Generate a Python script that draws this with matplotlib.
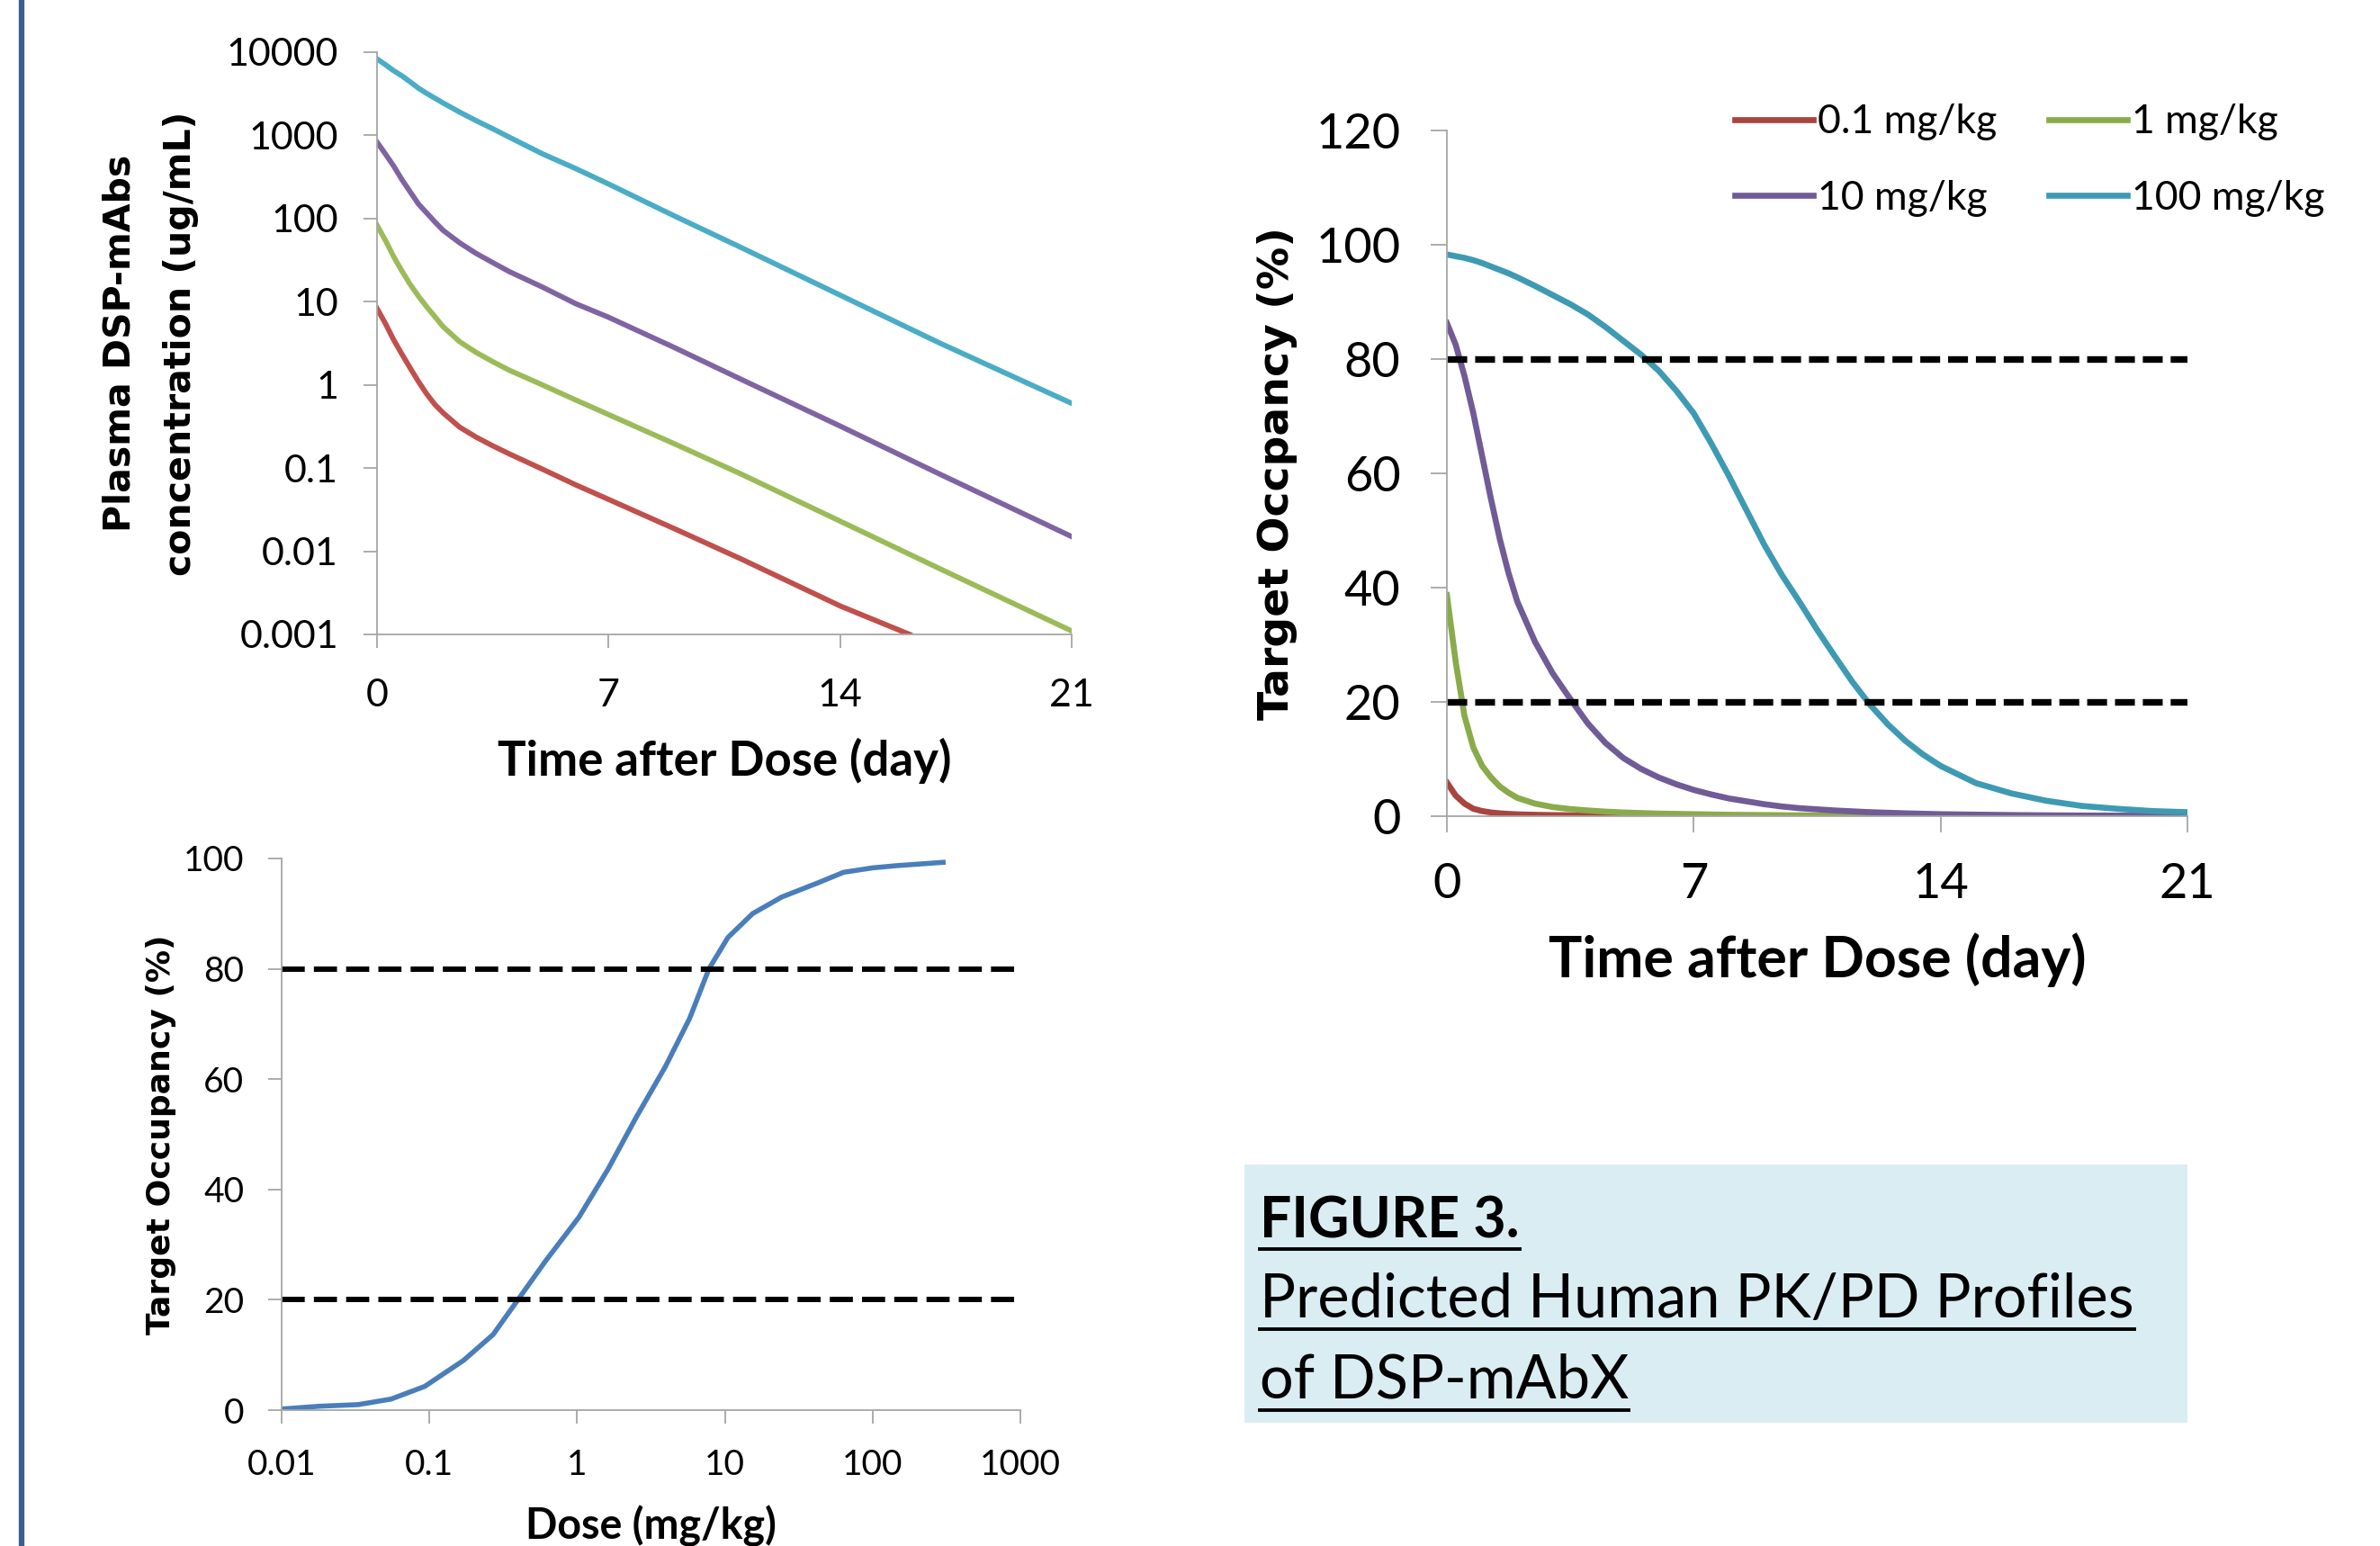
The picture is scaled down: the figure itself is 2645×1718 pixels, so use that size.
import matplotlib
matplotlib.use("Agg")
import matplotlib.pyplot as plt
from matplotlib.lines import Line2D
from matplotlib.patches import Rectangle

# ---- PK profiles (top left), concentration in ug/mL ----
pk_time = [0, 0.25, 0.5, 0.75, 1, 1.25, 1.5, 1.75, 2, 2.5, 3, 3.5, 4, 5, 6, 7, 9, 11, 14, 17, 21]
pk_time_red = [0, 0.25, 0.5, 0.75, 1, 1.25, 1.5, 1.75, 2, 2.5, 3, 3.5, 4, 5, 6, 7, 9, 11, 14, 16.1]
conc_01 = [8.3, 5.5, 3.5, 2.35, 1.6, 1.1, 0.78, 0.58, 0.46, 0.31, 0.235, 0.185, 0.148, 0.097,
           0.063, 0.042, 0.0186, 0.0081, 0.0022, 0.001]
conc_1 = [83, 55, 35, 23.5, 16.2, 11.7, 8.7, 6.6, 5.0, 3.3, 2.45, 1.9, 1.5, 1.0, 0.66, 0.44,
          0.195, 0.085, 0.023, 0.0062, 0.0011]
conc_10 = [830, 600, 430, 295, 210, 150, 117, 91, 72, 51, 38, 29.5, 23, 15, 9.5, 6.5, 2.8,
           1.17, 0.32, 0.085, 0.015]
conc_100 = [8300, 7100, 6000, 5200, 4400, 3700, 3200, 2800, 2450, 1900, 1500, 1200, 950, 600,
            400, 260, 107, 45, 12, 3.2, 0.6]
pk_yticks = [0.001, 0.01, 0.1, 1, 10, 100, 1000, 10000]
pk_ylabels = ["0.001", "0.01", "0.1", "1", "10", "100", "1000", "10000"]

# ---- target occupancy vs time (top right), % ----
ro_time = [0, 0.25, 0.5, 0.75, 1, 1.25, 1.5, 1.75, 2, 2.5, 3, 3.5, 4, 4.5, 5, 5.5, 6, 6.5,
           7, 7.5, 8, 8.5, 9, 9.5, 10, 10.5, 11, 11.5, 12, 12.5, 13, 13.5, 14, 15, 16, 17,
           18, 19, 20, 21]
ro_01 = [5.9, 3.6, 2.2, 1.3, 0.9, 0.65, 0.5, 0.4, 0.32, 0.24, 0.19, 0.16, 0.13, 0.11, 0.09,
         0.08, 0.07, 0.06, 0.05, 0.045, 0.04, 0.035, 0.03, 0.028, 0.025, 0.022, 0.02, 0.018,
         0.016, 0.015, 0.014, 0.013, 0.012, 0.01, 0.009, 0.008, 0.007, 0.006, 0.005, 0.005]
ro_1 = [38.7, 27.0, 17.5, 12.0, 8.8, 6.8, 5.2, 4.1, 3.2, 2.2, 1.6, 1.25, 1.0, 0.8, 0.65, 0.55,
        0.45, 0.4, 0.35, 0.3, 0.25, 0.22, 0.2, 0.17, 0.15, 0.13, 0.12, 0.11, 0.1, 0.09, 0.08,
        0.075, 0.07, 0.06, 0.05, 0.045, 0.04, 0.035, 0.03, 0.03]
ro_10 = [86.3, 82.5, 77.0, 70.5, 63.0, 55.5, 48.5, 42.5, 37.5, 30.5, 25.0, 20.5, 16.2, 12.8,
         10.2, 8.3, 6.8, 5.6, 4.6, 3.8, 3.1, 2.6, 2.1, 1.7, 1.4, 1.2, 1.0, 0.85, 0.7, 0.6, 0.5,
         0.42, 0.35, 0.27, 0.2, 0.15, 0.12, 0.1, 0.08, 0.06]
ro_100 = [98.3, 98.0, 97.7, 97.3, 96.8, 96.2, 95.6, 95.0, 94.3, 92.8, 91.2, 89.6, 87.8, 85.6,
          83.2, 80.8, 78.0, 74.5, 70.5, 65.2, 59.5, 53.5, 47.5, 42.2, 37.5, 32.6, 28.0, 23.5,
          19.5, 16.1, 13.2, 10.8, 8.8, 5.8, 4.0, 2.7, 1.8, 1.3, 0.9, 0.7]
dose_labels = ["0.1 mg/kg", "1 mg/kg", "10 mg/kg", "100 mg/kg"]

# ---- occupancy vs dose (bottom left) ----
dose = [0.01, 0.018, 0.033, 0.055, 0.093, 0.17, 0.27, 0.39, 0.61, 1.03, 1.62, 2.5, 3.96,
        5.77, 7.8, 10.5, 15.4, 24.2, 43.7, 63.6, 100, 145, 300]
occ = [0.2, 0.7, 1.0, 2.0, 4.3, 9.0, 13.7, 19.7, 27, 35, 43.7, 53, 62.3, 71, 80, 85.7, 90,
       93, 95.7, 97.5, 98.3, 98.7, 99.3]
dose_ticks = [0.01, 0.1, 1, 10, 100, 1000]
dose_ticklabels = ["0.01", "0.1", "1", "10", "100", "1000"]

thresholds = [20, 80]

CAL = "Lato"
VER = "DejaVu Sans"
GREY = "#a6a6a6"

W, H = 2645, 1718
fig = plt.figure(figsize=(W / 100, H / 100), dpi=100)


def px_axes(x0, y0, x1, y1):
    # pixel box (from top-left of figure) -> axes
    return fig.add_axes([x0 / W, 1 - y1 / H, (x1 - x0) / W, (y1 - y0) / H])


def style(ax, size, ticklen, xpad, ypad):
    for s in ["top", "right"]:
        ax.spines[s].set_visible(False)
    for s in ["left", "bottom"]:
        ax.spines[s].set_color(GREY)
        ax.spines[s].set_linewidth(1.3)
    ax.tick_params(direction="out", length=ticklen, width=1.3, color=GREY, labelsize=size)
    ax.tick_params(axis="x", pad=xpad)
    ax.tick_params(axis="y", pad=ypad)
    ax.tick_params(which="minor", length=0)
    for lab in ax.get_xticklabels() + ax.get_yticklabels():
        lab.set_fontfamily(CAL)


# top left
ax1 = px_axes(419, 58, 1191, 705)
ax1.set_yscale("log")
ax1.plot(pk_time_red, conc_01, color="#c0504d", lw=4.2)
ax1.plot(pk_time, conc_1, color="#9bbb59", lw=4.2)
ax1.plot(pk_time, conc_10, color="#8064a2", lw=4.2)
ax1.plot(pk_time, conc_100, color="#4bacc6", lw=4.2)
ax1.set_xlim(0, 21)
ax1.set_ylim(0.001, 10000)
ax1.set_xticks([0, 7, 14, 21])
ax1.set_yticks(pk_yticks)
ax1.set_yticklabels(pk_ylabels)
style(ax1, 31, 11, 24, 20)
ax1.set_xlabel("Time after Dose (day)", fontfamily=CAL, fontweight="bold", fontsize=38)
ax1.xaxis.set_label_coords(0.5, -0.178)
ax1.set_ylabel("Plasma DSP-mAbs\nconcentration (ug/mL)", fontfamily=VER,
               fontweight="bold", fontsize=29.5, linespacing=1.9)
ax1.yaxis.set_label_coords(-0.256, 0.5)

# top right
ax2 = px_axes(1608, 145, 2431, 907)
ro_colors = ["#a9443f", "#8aab4a", "#715b96", "#3e9ab3"]
lines = []
for y, c, lab in zip([ro_01, ro_1, ro_10, ro_100], ro_colors, dose_labels):
    ln, = ax2.plot(ro_time, y, color=c, lw=4.8, label=lab)
    lines.append(ln)
for th in thresholds:
    ax2.plot([0, 21], [th, th], color="black", lw=5.3, dashes=(3.0, 1.2))
ax2.set_xlim(0, 21)
ax2.set_ylim(0, 120)
ax2.set_xticks([0, 7, 14, 21])
ax2.set_yticks(range(0, 121, 20))
style(ax2, 39, 13, 24, 24)
ax2.set_xlabel("Time after Dose (day)", fontfamily=CAL, fontweight="bold", fontsize=45)
ax2.xaxis.set_label_coords(0.5, -0.17)
ax2.set_ylabel("Target Occpancy (%)", fontfamily=VER, fontweight="bold", fontsize=34)
ax2.yaxis.set_label_coords(-0.202, 0.5)
order = [0, 2, 1, 3]  # rows: 0.1 / 1, then 10 / 100
ax2.legend([lines[i] for i in order], [dose_labels[i] for i in order], ncol=2,
           frameon=False, loc="center left",
           bbox_to_anchor=(1928 / W, 1 - 178 / H), bbox_transform=fig.transFigure,
           prop={"family": CAL, "size": 32}, handlelength=1.95, handletextpad=0.12,
           columnspacing=1.3, labelspacing=0.98, borderaxespad=0, borderpad=0)

# bottom left
ax3 = px_axes(313, 954, 1134, 1567)
ax3.set_xscale("log")
ax3.plot(dose, occ, color="#4a7ebb", lw=4.0)
for th in thresholds:
    ax3.plot([0.01, 1000], [th, th], color="black", lw=4.3, dashes=(4.3, 1.7))
ax3.set_xlim(0.01, 1000)
ax3.set_ylim(0, 100)
ax3.set_xticks(dose_ticks)
ax3.set_xticklabels(dose_ticklabels)
ax3.set_yticks(range(0, 101, 20))
style(ax3, 28, 11, 20, 19)
ax3.set_xlabel("Dose (mg/kg)", fontfamily=CAL, fontweight="bold", fontsize=33.5)
ax3.xaxis.set_label_coords(0.5, -0.172)
ax3.set_ylabel("Target Occupancy (%)", fontfamily=VER, fontweight="bold", fontsize=26)
ax3.yaxis.set_label_coords(-0.142, 0.5)

# left page border
fig.add_artist(Line2D([24 / W, 24 / W], [0, 1], color="#3a5f8f", lw=4.5))

# caption box
fig.add_artist(Rectangle((1383 / W, 1 - 1581 / H), 1048 / W, 287 / H,
                         facecolor="#daedf3", edgecolor="none"))
caption = [("FIGURE 3.", "bold", 45, 1375), ("Predicted Human PK/PD Profiles", "normal", 48, 1464),
           ("of DSP-mAbX", "normal", 48, 1554)]
texts = []
for s, w, fs, yb in caption:
    t = fig.text(1400 / W, 1 - yb / H, s, fontfamily=CAL, fontweight=w, fontsize=fs,
                 va="baseline", ha="left")
    texts.append((t, yb))

fig.canvas.draw()
r = fig.canvas.get_renderer()
for t, yb in texts:
    bb = t.get_window_extent(r)
    yl = 1 - (yb + 13) / H
    fig.add_artist(Line2D([bb.x0 / W, bb.x1 / W], [yl, yl], color="black", lw=2.8))

fig.savefig("out.png", dpi=100)
